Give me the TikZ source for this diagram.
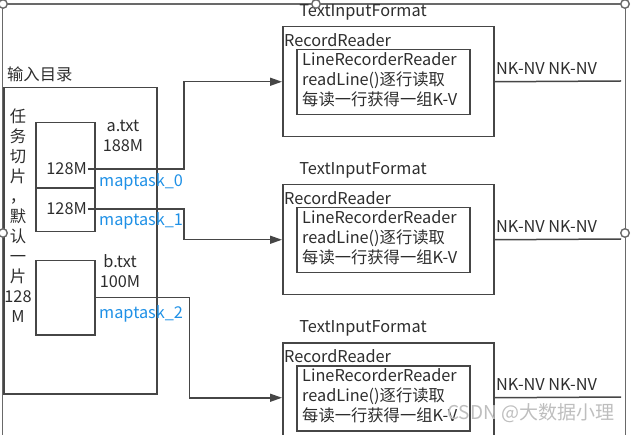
\documentclass[tikz,border=0pt]{standalone}
\usepackage{fontspec}
\setmainfont{Noto Sans CJK SC}
\usetikzlibrary{arrows.meta,positioning,calc}

\definecolor{linec}{RGB}{70,70,70}
\definecolor{textc}{RGB}{45,45,45}
\definecolor{taskblue}{RGB}{30,144,230}
\definecolor{handlec}{RGB}{105,105,105}
\definecolor{markc}{RGB}{190,190,190}

\begin{document}
\begin{tikzpicture}[x=1pt,y=-1pt,
    box/.style={draw=linec,line width=1.5pt,inner sep=0pt,anchor=north west},
    txt/.style={text=textc,inner sep=1pt,font=\fontsize{16.3}{20}\selectfont},
    task/.style={txt,text=taskblue},
    arr/.style={draw=linec,line width=1.5pt,-{Triangle[length=12pt,width=8pt]}},
    conn/.style={draw=linec,line width=1.5pt},
    frame/.style={draw=handlec,line width=1.4pt},
    handle/.style={circle,draw=handlec,fill=white,line width=1.4pt,inner sep=0pt,minimum size=8.5pt},
    wm/.style={text=markc,inner sep=0pt,font=\fontsize{19}{22}\selectfont}]
      \useasboundingbox (0,0) rectangle (634,435);
      \clip (0,0) rectangle (634,435);

      % Frame
      \draw[frame] (3,4) -- (625,4);
      \draw[frame] (2.5,4) -- (2.5,440);
      \draw[frame] (625.5,4) -- (625.5,440);

      % Input directory
      \node[txt,anchor=west] (dirlabel) at (6,74) {输入目录};
      \node[box,minimum width=153pt,minimum height=306pt] (indir) at (3,87) {};
      \node[txt,align=center] (split) at (18,216) {任\\务\\切\\片\\，\\默\\认\\一\\片\\128\\M};

      % File a.txt
      \node[box,minimum width=59pt,minimum height=109pt] (afile) at (35,122) {};
      \draw[conn] (afile.west |- 0,188) -- (afile.east |- 0,188);
      \node[txt,align=center] (aname) at (123,136) {a.txt\\188M};
      \node[txt,anchor=east] (s0) at (88,169) {128M};
      \node[txt,anchor=east] (s1) at (88,209) {128M};
      \node[task,anchor=west] (m0) at (98,182) {maptask\_0};
      \node[task,anchor=west] (m1) at (98,221) {maptask\_1};

      % File b.txt
      \node[box,minimum width=59pt,minimum height=74pt] (bfile) at (35,260) {};
      \node[txt,align=center] (bname) at (120,271) {b.txt\\100M};
      \node[task,anchor=west] (m2) at (98,314) {maptask\_2};

      % Readers
      \foreach \i/\y in {1/26,2/184,3/342} {
        \node[txt] (tif\i) at (363,\y-14) {TextInputFormat};
        \node[box,minimum width=211pt,minimum height=110pt] (rr\i) at (282,\y) {};
        \node[txt,anchor=west] (rrlabel\i) at (283,\y+14) {RecordReader};
        \node[box,minimum width=173pt,minimum height=65pt] (lr\i) at (296,\y+23) {};
        \node[txt,anchor=north west,align=left] (lrtext\i) at (301,\y+25)
          {LineRecorderReader\\readLine()逐行读取\\每读一行获得一组K-V};
        \node[txt,anchor=west] (kv\i) at (495,\y+43) {NK-NV NK-NV};
        \coordinate (out\i) at (621,\y+55);
        \draw[conn] (rr\i.east) -- (out\i);
      }

      % Splits to readers
      \draw[arr] (s0.east) -- ++(96,0) |- (rr1.west);
      \draw[arr] (s1.east) -- ++(96,0) |- (rr2.west);
      \draw[arr] (bfile.east) -- ++(94,0) |- (rr3.west);

      % Handles
      \foreach \p in {(3,4),(316,4),(625,4),(3,233),(625,233)} {
        \node[handle] at \p {};
      }

      % Watermark
      \node[wm,anchor=west] (mark) at (447,413) {CSDN @大数据小理};
    \end{tikzpicture}
\end{document}
